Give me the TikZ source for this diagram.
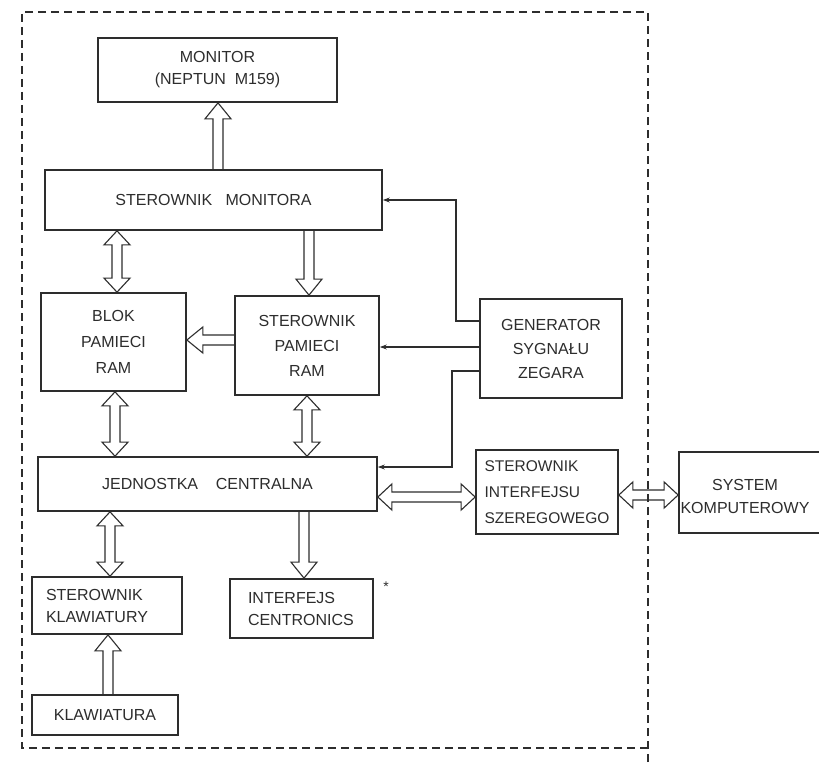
\documentclass[tikz,border=0pt]{standalone}
\usepackage{fontspec}
\setmainfont{Liberation Sans}
\usetikzlibrary{calc,arrows.meta}
\definecolor{ink}{RGB}{45,45,45}
\newcommand\dfont{\fontsize{16}{22}\selectfont}
% single hollow arrow: tail #1, tip #2
\newcommand\sarr[2]{%
  \coordinate (ta) at (#1); \coordinate (tb) at (#2);
  \coordinate (tc) at ($(tb)!16pt!(ta)$);
  \draw[hollow] ($(ta)!5pt!90:(tb)$) -- ($(tc)!5pt!90:(tb)$) -- ($(tc)!13pt!90:(tb)$) -- (tb)
     -- ($(tc)!13pt!-90:(tb)$) -- ($(tc)!5pt!-90:(tb)$) -- ($(ta)!5pt!-90:(tb)$);}
% double hollow arrow between #1 and #2
\newcommand\darr[2]{%
  \coordinate (ta) at (#1); \coordinate (tb) at (#2);
  \coordinate (c1) at ($(ta)!14pt!(tb)$); \coordinate (c2) at ($(tb)!14pt!(ta)$);
  \draw[hollow] (ta) -- ($(c1)!13pt!90:(tb)$) -- ($(c1)!5pt!90:(tb)$) -- ($(c2)!5pt!90:(tb)$)
     -- ($(c2)!13pt!90:(tb)$) -- (tb) -- ($(c2)!13pt!-90:(tb)$) -- ($(c2)!5pt!-90:(tb)$)
     -- ($(c1)!5pt!-90:(tb)$) -- ($(c1)!13pt!-90:(tb)$) -- cycle;}
\begin{document}
\begin{tikzpicture}[x=1pt,y=-1pt,
  box/.style={draw=ink, line width=1.7pt, inner sep=0pt, align=center, font=\dfont, text=ink},
  txt/.style={inner sep=0pt, align=center, font=\dfont, text=ink},
  hollow/.style={draw=ink, line width=1.1pt, line join=miter},
  wire/.style={draw=ink, line width=1.1pt},
  tipa/.style={-{Stealth[length=7pt,width=5pt]}},
  lsk/.style={execute at begin node={\setlength{\baselineskip}{#1pt}}}]
\useasboundingbox (0,0) rectangle (819,765);
\fill[white] (0,0) rectangle (819,765);

% frame
\draw[ink, line width=1.3pt, dash pattern=on 8pt off 5pt]
  (648,762) -- (648,12) -- (22,12) -- (22,748) -- (648,748);

% blocks
\node[box, minimum width=239pt, minimum height=64pt, lsk=22] (mon) at (217.5,70) {MONITOR\\(NEPTUN\ \ M159)};
\node[box, minimum width=337pt, minimum height=60pt] (sm) at (213.5,200) {STEROWNIK\ \ \ MONITORA};
\node[box, minimum width=145pt, minimum height=98pt, lsk=26] (blok) at (113.5,342) {BLOK\\PAMIECI\\RAM};
\node[box, minimum width=144pt, minimum height=99pt, lsk=25] (spr) at (307,345.5) {STEROWNIK\\PAMIECI\\RAM};
\node[box, minimum width=339pt, minimum height=54pt] (jc) at (207.5,484) {JEDNOSTKA\ \ \ \ CENTRALNA};
\node[box, minimum width=142pt, minimum height=99pt, lsk=24] (gen) at (551,348.5) {GENERATOR\\SYGNAŁU\\ZEGARA};
\node[box, minimum width=142pt, minimum height=84pt, align=left, lsk=26, font=\fontsize{15.5}{22}\selectfont] (sis) at (547,492) {STEROWNIK\\INTERFEJSU\\SZEREGOWEGO};
\node[box, minimum width=156pt, minimum height=81pt] (sys) at (757,492.5) {};
\node[txt, lsk=23] (systxt) at (745,496) {SYSTEM\\KOMPUTEROWY};
\node[box, text width=122pt, inner xsep=14pt, minimum height=57pt, align=left, lsk=22] (sk) at (107,605.5) {STEROWNIK\\KLAWIATURY};
\node[box, text width=107pt, inner xsep=18pt, minimum height=59pt, align=left, lsk=22] (ic) at (301.5,608.5) {INTERFEJS\\CENTRONICS};
\node[box, minimum width=146pt, minimum height=40pt] (kl) at (105,715) {KLAWIATURA};
\node[txt, font=\fontsize{14}{14}\selectfont] (ast) at (386,587) {*};

% hollow bus arrows
\coordinate (xa) at (218,0); \sarr{sm.north -| xa}{mon.south -| xa}
\coordinate (xb) at (117,0); \darr{sm.south -| xb}{blok.north -| xb}
\coordinate (xc) at (309,0); \sarr{sm.south -| xc}{spr.north -| xc}
\coordinate (ya) at (0,340); \sarr{spr.west |- ya}{blok.east |- ya}
\coordinate (xd) at (115,0); \darr{blok.south -| xd}{jc.north -| xd}
\coordinate (xe) at (307,0); \darr{spr.south -| xe}{jc.north -| xe}
\coordinate (yb) at (0,497); \darr{jc.east |- yb}{sis.west |- yb}
\coordinate (yc) at (0,495); \darr{sis.east |- yc}{sys.west |- yc}
\coordinate (xf) at (110,0); \darr{jc.south -| xf}{sk.north -| xf}
\coordinate (xg) at (304,0); \sarr{jc.south -| xg}{ic.north -| xg}
\coordinate (xh) at (108,0); \sarr{kl.north -| xh}{sk.south -| xh}

% clock lines
\coordinate (y1) at (0,321); \coordinate (g1) at (456,0);
\coordinate (y2) at (0,347);
\coordinate (y3) at (0,371); \coordinate (g3) at (452,0); \coordinate (y4) at (0,467);
\draw[wire, tipa] (gen.west |- y1) -- (g1 |- y1) -- (g1 |- sm.east) -- (sm.east);
\draw[wire, tipa] (gen.west |- y2) -- (spr.east |- y2);
\draw[wire, tipa] (gen.west |- y3) -- (g3 |- y3) -- (g3 |- y4) -- (jc.east |- y4);
\end{tikzpicture}
\end{document}
